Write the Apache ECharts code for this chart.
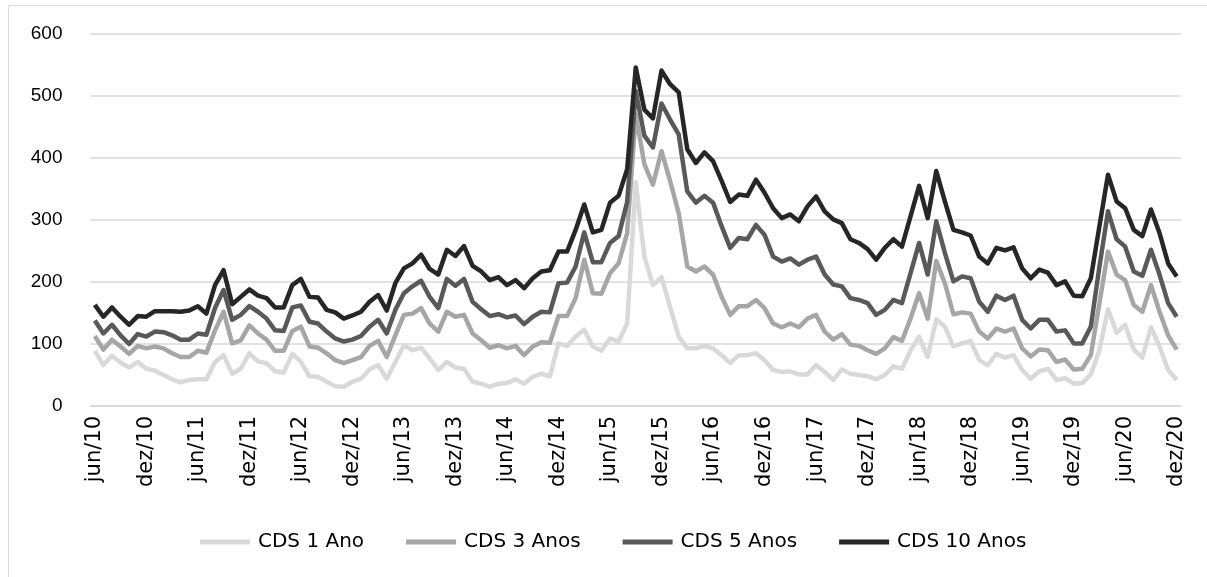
<!DOCTYPE html>
<html>
<head>
<meta charset="utf-8">
<script src="https://cdn.jsdelivr.net/npm/echarts@6/dist/echarts.min.js"></script>
<style>
html,body{margin:0;padding:0;background:#fff;}
#chart{width:1207px;height:577px;}
</style>
</head>
<body>
<div id="chart"></div>
<script>
// Month labels (jun/10 .. dez/20)
const monthNames = ['jan','fev','mar','abr','mai','jun','jul','ago','set','out','nov','dez'];
const startYear = 2010, startMonth = 5, monthCount = 127;
const categories = [];
for (let k = 0; k < monthCount; k++) {
  const m = (startMonth + k) % 12;
  const y = startYear + Math.floor((startMonth + k) / 12);
  categories.push(monthNames[m] + '/' + String(y).slice(2));
}

const seriesNames = ['CDS 1 Ano', 'CDS 3 Anos', 'CDS 5 Anos', 'CDS 10 Anos'];

const cds1 = [
  89,66,81,70,62,71,60,57,50,43,38,42,43,43,71,82,52,60,
  85,72,69,56,54,84,71,48,47,39,32,31,39,44,59,66,44,71,
  98,90,94,77,58,71,62,60,39,36,31,36,37,43,36,47,52,48,
  101,97,112,123,96,89,109,104,133,361,241,195,208,160,112,93,93,97,
  93,82,69,82,82,85,74,58,55,56,51,51,66,55,42,59,52,50,48,
  43,50,64,60,90,112,79,140,128,96,101,105,74,66,84,78,82,58,
  44,56,60,42,45,36,37,51,90,156,118,131,91,78,127,96,58,42
];
const cds3 = [
  113,91,107,96,84,97,93,96,93,85,79,79,89,86,122,152,101,106,
  130,117,107,89,89,121,128,96,94,85,74,69,74,79,97,105,79,114,
  147,149,158,133,120,152,144,147,117,106,94,98,93,97,82,96,103,102,
  145,145,174,236,182,181,214,230,279,470,390,357,411,363,311,225,217,225,
  212,176,147,161,161,171,158,133,127,133,127,141,147,120,107,116,99,97,90,
  84,93,111,105,141,182,141,234,198,148,151,149,120,109,125,120,125,93,
  80,91,90,71,75,59,60,82,166,249,212,203,163,152,195,152,114,91
];
const cds5 = [
  138,117,131,114,100,116,112,120,119,114,107,107,117,115,158,187,139,147,
  161,152,141,122,121,159,162,136,133,120,109,104,107,113,128,139,117,155,
  182,193,202,176,158,205,194,205,168,156,145,148,143,146,132,144,152,151,
  198,199,225,280,232,232,263,274,329,508,436,417,488,462,438,346,328,339,
  328,290,255,271,269,292,276,241,233,238,228,236,241,212,196,193,174,171,166,
  147,155,171,166,214,263,212,298,247,201,209,206,168,152,178,171,178,139,
  125,139,139,120,122,101,101,128,225,314,269,257,217,210,252,212,166,144
];
const cds10 = [
  163,144,159,144,131,145,144,153,153,153,152,154,161,149,195,219,164,176,
  188,178,174,159,159,195,205,176,175,155,151,141,146,152,168,179,154,198,
  222,230,244,221,212,252,242,258,226,217,203,208,195,203,190,206,217,219,
  249,249,284,325,280,284,328,339,382,546,478,464,541,519,506,414,392,409,
  395,363,329,341,339,365,344,319,303,309,298,322,338,314,301,295,269,263,253,
  236,255,269,257,306,355,303,379,330,284,280,275,241,230,255,251,256,222,
  206,220,215,195,201,178,177,206,290,373,330,319,284,274,317,279,230,209
];

const yTicks = { min: 0, max: 600, interval: 100 };
const colors = ['#d9d9d9', '#a6a6a6', '#595959', '#262626'];
const allData = [cds1, cds3, cds5, cds10];

const numFont = '"Liberation Sans", Arial, sans-serif';
const wideFont = '"DejaVu Sans", Verdana, sans-serif';

const chart = echarts.init(document.getElementById('chart'), null, { renderer: 'canvas' });
chart.setOption({
  animation: false,
  backgroundColor: '#fff',
  graphic: [{
    type: 'rect',
    shape: { x: 8.5, y: 5.5, width: 1300, height: 700 },
    style: { fill: 'none', stroke: '#d9d9d9', lineWidth: 1 },
    silent: true
  }],
  grid: { left: 90.5, right: 26, top: 34, bottom: 171, containLabel: false },
  legend: {
    top: 527,
    left: 195,
    itemWidth: 50,
    itemHeight: 5,
    itemGap: 42,
    icon: 'rect',
    textStyle: { fontFamily: wideFont, fontSize: 20, color: '#000', padding: [0, 0, 0, 3] },
    data: seriesNames
  },
  xAxis: {
    type: 'category',
    data: categories,
    boundaryGap: true,
    axisLine: { show: true, lineStyle: { color: '#d9d9d9', width: 1.5 } },
    axisTick: { show: false },
    axisLabel: {
      interval: 5,
      rotate: 90,
      margin: 10,
      fontFamily: wideFont,
      fontSize: 21,
      color: '#000'
    },
    splitLine: { show: false }
  },
  yAxis: {
    type: 'value',
    min: yTicks.min,
    max: yTicks.max,
    interval: yTicks.interval,
    axisLine: { show: false },
    axisTick: { show: false },
    axisLabel: { margin: 28, fontFamily: numFont, fontSize: 19, color: '#000' },
    splitLine: { lineStyle: { color: '#d9d9d9', width: 1.5 } }
  },
  series: seriesNames.map((name, k) => ({
    name: name,
    type: 'line',
    data: allData[k],
    showSymbol: false,
    symbol: 'none',
    lineStyle: { color: colors[k], width: 4.5, join: 'round' },
    itemStyle: { color: colors[k] },
    z: 2 + k
  }))
});
</script>
</body>
</html>
